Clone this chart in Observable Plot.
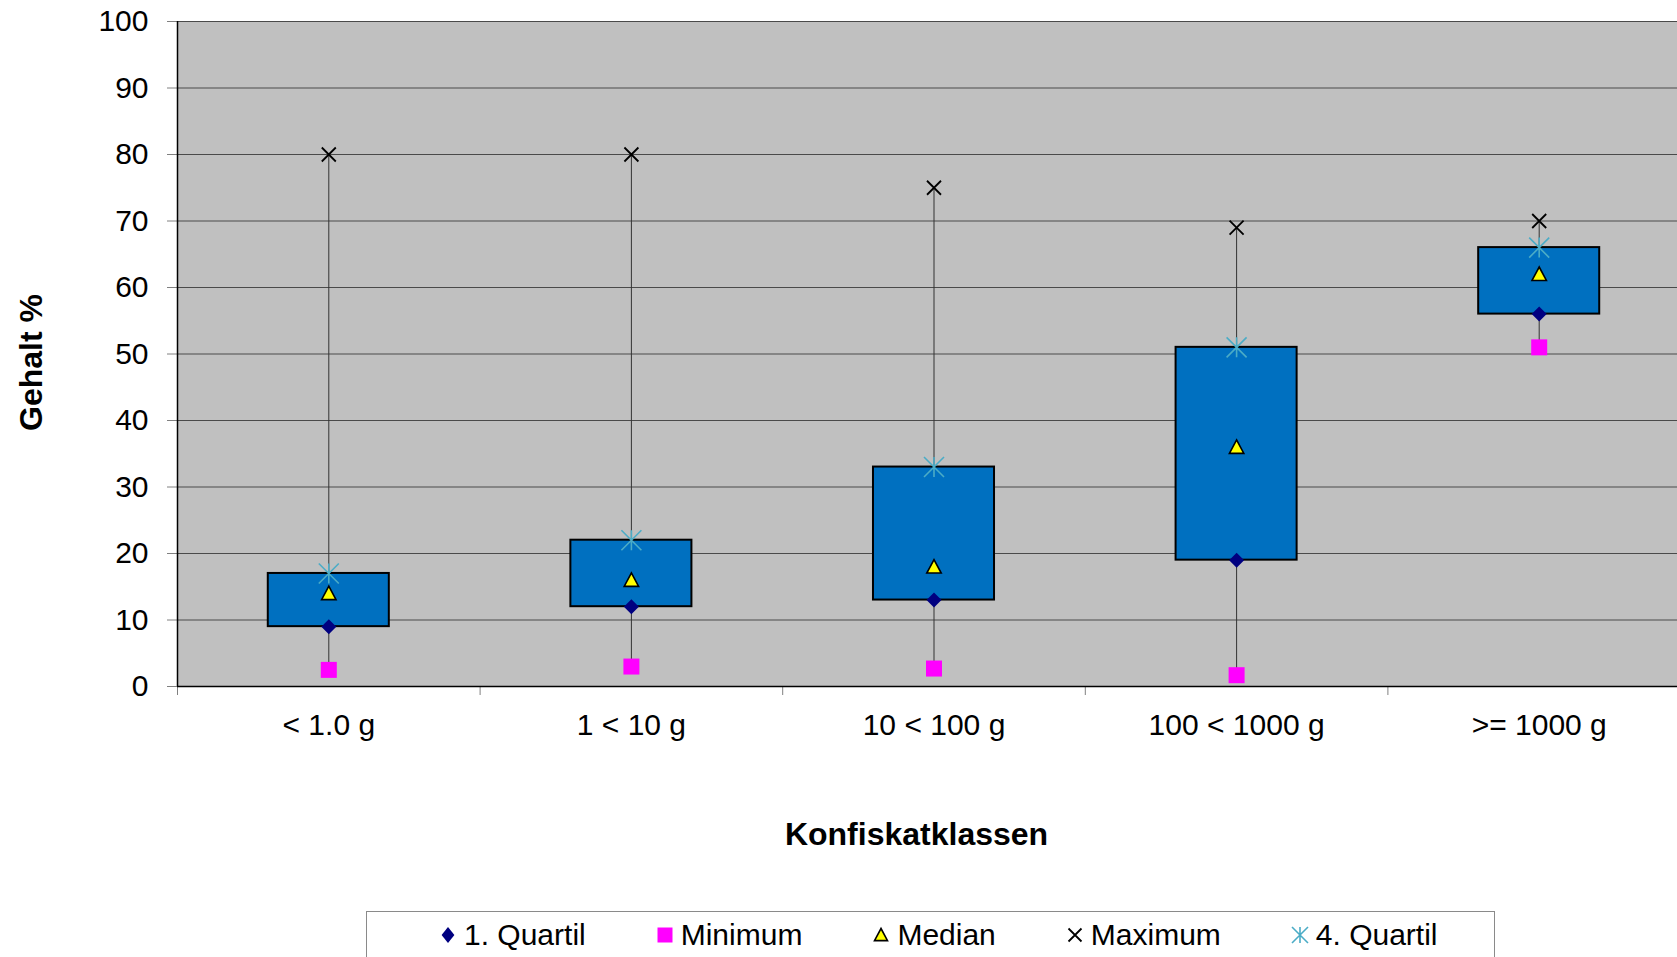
<!DOCTYPE html>
<html>
<head>
<meta charset="utf-8">
<script src="https://cdn.jsdelivr.net/npm/d3@7"></script>
<script src="https://cdn.jsdelivr.net/npm/@observablehq/plot@0.6"></script>
<style>
html, body { margin: 0; padding: 0; overflow: hidden; background: #fff; }
#chart svg { display: block; max-width: none !important; }
.legend {
  margin-left: 366px; width: 1129px; height: 60px; box-sizing: border-box;
  border: 1px solid #8a8a8a; border-bottom: none;
  display: flex; align-items: flex-start; padding-left: 71px; gap: 69px;
  font-family: "Liberation Sans", Arial, sans-serif; font-size: 30px; color: #000;
}
.item { display: flex; align-items: center; height: 46px; white-space: nowrap; }
.item svg { margin-right: 6px; display: block; }
</style>
</head>
<body>
<div id="chart"></div>
<div class="legend" id="legend"></div>
<script>
// ---- data ----
const categories = ["< 1.0 g", "1 < 10 g", "10 < 100 g", "100 < 1000 g", ">= 1000 g"];
const quartil1 = [9, 12, 13, 19, 56];
const minimum  = [2.5, 3, 2.7, 1.7, 51];
const median   = [14, 16, 18, 36, 62];
const maximum  = [80, 80, 75, 69, 70];
const quartil4 = [17, 22, 33, 51, 66];
const yTicks   = [0, 10, 20, 30, 40, 50, 60, 70, 80, 90, 100];

// ---- marker symbols (size = pi r^2) ----
const rad = s => Math.sqrt(s / Math.PI);
const diamondSym = {draw(c, s) { const r = rad(s); c.moveTo(0, -r); c.lineTo(r, 0); c.lineTo(0, r); c.lineTo(-r, 0); c.closePath(); }};
const legendDiamondSym = {draw(c, s) { const r = rad(s); c.moveTo(0, -r); c.lineTo(0.8 * r, 0); c.lineTo(0, r); c.lineTo(-0.8 * r, 0); c.closePath(); }};
const squareSym = {draw(c, s) { const r = rad(s); c.moveTo(-r, -r); c.lineTo(r, -r); c.lineTo(r, r); c.lineTo(-r, r); c.closePath(); }};
const triangleSym = {draw(c, s) { const r = rad(s); c.moveTo(0, -r); c.lineTo(r, 0.87 * r); c.lineTo(-r, 0.87 * r); c.closePath(); }};
const crossSym = {draw(c, s) { const r = rad(s); c.moveTo(-r, -r); c.lineTo(r, r); c.moveTo(-r, r); c.lineTo(r, -r); }};
const starSym = {draw(c, s) { const r = rad(s); c.moveTo(-r, -r); c.lineTo(r, r); c.moveTo(-r, r); c.lineTo(r, -r); c.moveTo(0, -r); c.lineTo(0, r); }};

const series = [
  {label: "1. Quartil", values: quartil1, symbol: diamondSym, lsym: legendDiamondSym, r: 7.5, lr: 8, fill: "#000080", stroke: "none", sw: 0},
  {label: "Minimum", values: minimum, symbol: squareSym, r: 8, lr: 7.5, fill: "#ff00ff", stroke: "none", sw: 0},
  {label: "Median", values: median, symbol: triangleSym, r: 7.2, lr: 6.5, fill: "#ffff00", stroke: "#000", sw: 1.6},
  {label: "Maximum", values: maximum, symbol: crossSym, r: 7, lr: 6.5, fill: "none", stroke: "#000", sw: 1.8},
  {label: "4. Quartil", values: quartil4, symbol: starSym, r: 10, lr: 8, fill: "none", stroke: "#4bacc6", sw: 1.6}
];
const drawOrder = [1, 0, 2, 4, 3];

const idx = categories.map((_, i) => i);
const W = 1700, H = 911, yZero = 686;

const chart = Plot.plot({
  width: W,
  height: H,
  marginLeft: 177,
  marginRight: 10,
  marginTop: 21,
  marginBottom: H - yZero,
  x: {domain: [0, categories.length]},
  y: {domain: [0, 100]},
  style: {fontFamily: '"Liberation Sans", Arial, sans-serif', color: "#000", background: "#fff", maxWidth: "none"},
  marks: [
    Plot.frame({fill: "#c0c0c0", stroke: null}),
    Plot.gridY({ticks: yTicks, stroke: "#4a4a4a", strokeOpacity: 1, strokeWidth: 1}),
    Plot.axisY({ticks: yTicks, tickSize: 10, tickPadding: 19, fontSize: 30, stroke: "#808080", fill: "#000", label: null}),
    Plot.axisX({ticks: d3.range(0, categories.length + 1), tickSize: 9, tickFormat: () => "", stroke: "#808080", label: null}),
    Plot.axisX({ticks: idx.map(i => i + 0.5), tickSize: 0, tickPadding: 27, tickFormat: v => categories[Math.floor(v)], fontSize: 30, fill: "#000", label: null}),
    Plot.ruleY([0], {stroke: "#000", strokeWidth: 1.5}),
    Plot.ruleX([0], {stroke: "#000", strokeWidth: 1.5}),
    Plot.ruleX(idx, {x: i => i + 0.5, y1: i => minimum[i], y2: i => maximum[i], stroke: "#333", strokeWidth: 1}),
    Plot.rect(idx, {x1: i => i + 0.3, x2: i => i + 0.7, y1: i => quartil1[i], y2: i => quartil4[i], fill: "#0070c0", stroke: "#000", strokeWidth: 2}),
    ...drawOrder.map(k => {
      const s = series[k];
      return Plot.dot(idx, {x: i => i + 0.5, y: i => s.values[i], symbol: s.symbol, r: s.r, fill: s.fill, stroke: s.stroke, strokeWidth: s.sw});
    }),
    Plot.text(["Gehalt %"], {text: d => d, frameAnchor: "left", textAnchor: "middle", lineAnchor: "middle", dx: -146, dy: 8.5, rotate: -90, fontSize: 32, fontWeight: "bold", fill: "#000"}),
    Plot.text(["Konfiskatklassen"], {text: d => d, frameAnchor: "bottom", textAnchor: "middle", lineAnchor: "middle", dx: -17.5, dy: 148, fontSize: 32, fontWeight: "bold", fill: "#000"})
  ]
});
document.getElementById("chart").appendChild(chart);

// ---- legend ----
const legend = document.getElementById("legend");
series.forEach(s => {
  const item = document.createElement("div");
  item.className = "item";
  const size = 20;
  const p = d3.path();
  (s.lsym || s.symbol).draw(p, Math.PI * s.lr * s.lr);
  const svg = d3.create("svg").attr("width", size).attr("height", size).attr("viewBox", `${-size/2} ${-size/2} ${size} ${size}`);
  svg.append("path").attr("d", p.toString()).attr("fill", s.fill).attr("stroke", s.stroke).attr("stroke-width", s.sw);
  item.appendChild(svg.node());
  const t = document.createElement("span");
  t.textContent = s.label;
  item.appendChild(t);
  legend.appendChild(item);
});
</script>
</body>
</html>
